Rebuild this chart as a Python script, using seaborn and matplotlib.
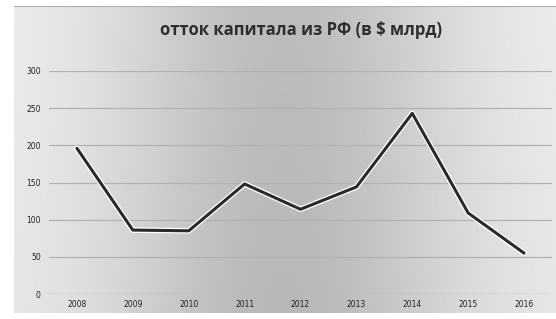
import matplotlib
matplotlib.use("Agg")
import matplotlib.pyplot as plt
import matplotlib.patheffects as pe
import seaborn as sns
import numpy as np
import pandas as pd

# capital outflow from Russia, $ bn
years = ["2008", "2009", "2010", "2011", "2012", "2013", "2014", "2015", "2016"]
outflow = [196, 86, 85, 148, 114, 144, 243, 109, 55]
yticks = [0, 50, 100, 150, 200, 250, 300]

df = pd.DataFrame({"year": years, "outflow": outflow})

sns.set_theme(style="white")
plt.rcParams["font.family"] = ["DejaVu Sans"]

fig = plt.figure(figsize=(5.56, 3.19), dpi=100)
fig.patch.set_facecolor("white")

# gray gradient panel behind the chart
bg = fig.add_axes([14 / 556, 6 / 319, 542 / 556, 307 / 319])
gx = np.linspace(0, 1, 300)
gy = np.linspace(0, 1, 160)
X, Y = np.meshgrid(gx, gy)
shade = 0.94 - 0.20 * np.exp(-((X - 0.50) / 0.33) ** 2) - 0.02 * Y
bg.imshow(shade, cmap="gray", vmin=0, vmax=1, aspect="auto",
          extent=[0, 1, 0, 1], origin="upper")
bg.axhline(1, color="#b0b0b0", lw=1.5)
bg.set_axis_off()

ax = fig.add_axes([49 / 556, 25 / 319, 503 / 556, 223 / 319])
ax.patch.set_alpha(0)

for v in yticks:
    ax.axhline(v, color="#b2b2b2", lw=0.9, zorder=1)

sns.lineplot(data=df, x="year", y="outflow", ax=ax, color="#2a2a2a", lw=2.2,
             sort=False, zorder=3,
             path_effects=[pe.Stroke(linewidth=4, foreground="white"), pe.Normal()])

ax.set_xlim(-0.5, len(years) - 0.5)
ax.set_ylim(0, 300)
ax.set_yticks(yticks)
ax.set_yticklabels([str(v) for v in yticks])
ax.set_xlabel("")
ax.set_ylabel("")
ax.tick_params(axis="both", length=0, labelsize=5.5, labelcolor="#222222")
ax.tick_params(axis="y", pad=6)
ax.tick_params(axis="x", pad=4)
for s in ax.spines.values():
    s.set_visible(False)

fig.text(0.542, 0.905, "отток капитала из РФ (в $ млрд)", ha="center", va="center",
         fontsize=12, fontweight="bold", color="#2e2e2e", family="Open Sans")

fig.savefig("out.png", dpi=100)
